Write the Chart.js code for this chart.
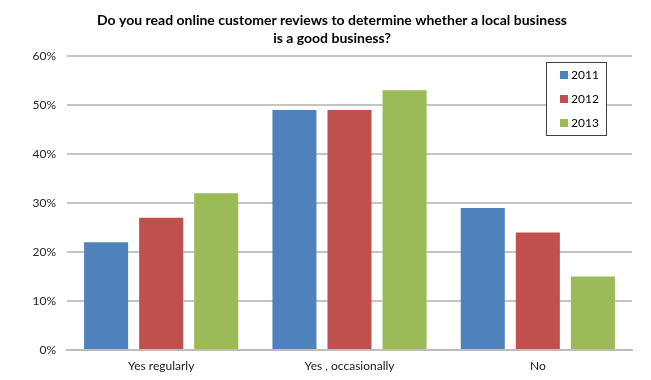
<!DOCTYPE html>
<html>
<head>
<meta charset="utf-8">
<script src="https://cdn.jsdelivr.net/npm/chart.js@4/dist/chart.umd.min.js"></script>
<style>
  html, body { margin: 0; padding: 0; background: #ffffff; }
  #wrap { width: 651px; height: 380px; position: relative; }
</style>
</head>
<body>
<div id="wrap"><canvas id="c"></canvas></div>
<script>
const titleLines = ["Do you read online customer reviews to determine whether a local business", "is a good business?"];
const categories = ["Yes regularly", "Yes , occasionally", "No"];
const seriesNames = ["2011", "2012", "2013"];
const values2011 = [22, 49, 29];
const values2012 = [27, 49, 24];
const values2013 = [32, 53, 15];
const yTicks = [0, 10, 20, 30, 40, 50, 60];
const colors = ["#4F81BD", "#C0504D", "#9BBB59"];

const FONT = "Lato, 'Liberation Sans', sans-serif";

const boxLegend = {
  id: 'boxLegend',
  afterDraw(chart) {
    const ctx = chart.ctx;
    const x = 546.5, y = 62.5, w = 60, h = 73;
    ctx.save();
    ctx.fillStyle = '#ffffff';
    ctx.fillRect(x, y, w, h);
    ctx.strokeStyle = '#404040';
    ctx.lineWidth = 1;
    ctx.strokeRect(x, y, w, h);
    ctx.font = "12px " + FONT;
    ctx.textBaseline = 'middle';
    ctx.textAlign = 'left';
    chart.data.datasets.forEach((ds, i) => {
      const cy = 75 + i * 24;
      ctx.fillStyle = ds.backgroundColor;
      ctx.fillRect(560, cy - 4, 8, 8);
      ctx.fillStyle = '#000000';
      ctx.fillText(ds.label, 571, cy);
    });
    ctx.restore();
  }
};

new Chart(document.getElementById('c'), {
  type: 'bar',
  data: {
    labels: categories,
    datasets: [
      { label: seriesNames[0], data: values2011, backgroundColor: colors[0] },
      { label: seriesNames[1], data: values2012, backgroundColor: colors[1] },
      { label: seriesNames[2], data: values2013, backgroundColor: colors[2] }
    ]
  },
  options: {
    responsive: true,
    maintainAspectRatio: false,
    animation: false,
    devicePixelRatio: 1,
    layout: { padding: { left: 32, right: 19, top: 0, bottom: 0 } },
    datasets: { bar: { categoryPercentage: 0.877, barPercentage: 0.8 } },
    plugins: {
      legend: { display: false },
      tooltip: { enabled: false },
      title: {
        display: true,
        text: titleLines,
        color: '#000000',
        font: { family: FONT, size: 14, weight: 'bold', lineHeight: 1.25 },
        padding: { top: 12, bottom: 9 }
      }
    },
    scales: {
      x: {
        grid: { display: false, drawTicks: false },
        border: { display: true, color: '#bdbdbd', width: 2 },
        ticks: { color: '#1a1a1a', font: { family: FONT, size: 12 }, padding: 9 },
        afterFit(scale) { scale.height = 30; }
      },
      y: {
        min: 0, max: 60,
        afterBuildTicks(scale) { scale.ticks = yTicks.map(v => ({ value: v })); },
        grid: { color: '#c4c4c4', lineWidth: 2, drawTicks: false },
        border: { display: false },
        ticks: {
          color: '#262626',
          font: { family: FONT, size: 12 },
          padding: 11,
          callback: v => v + '%'
        },
        afterFit(scale) { scale.width = 35; }
      }
    }
  },
  plugins: [boxLegend]
});
</script>
</body>
</html>
